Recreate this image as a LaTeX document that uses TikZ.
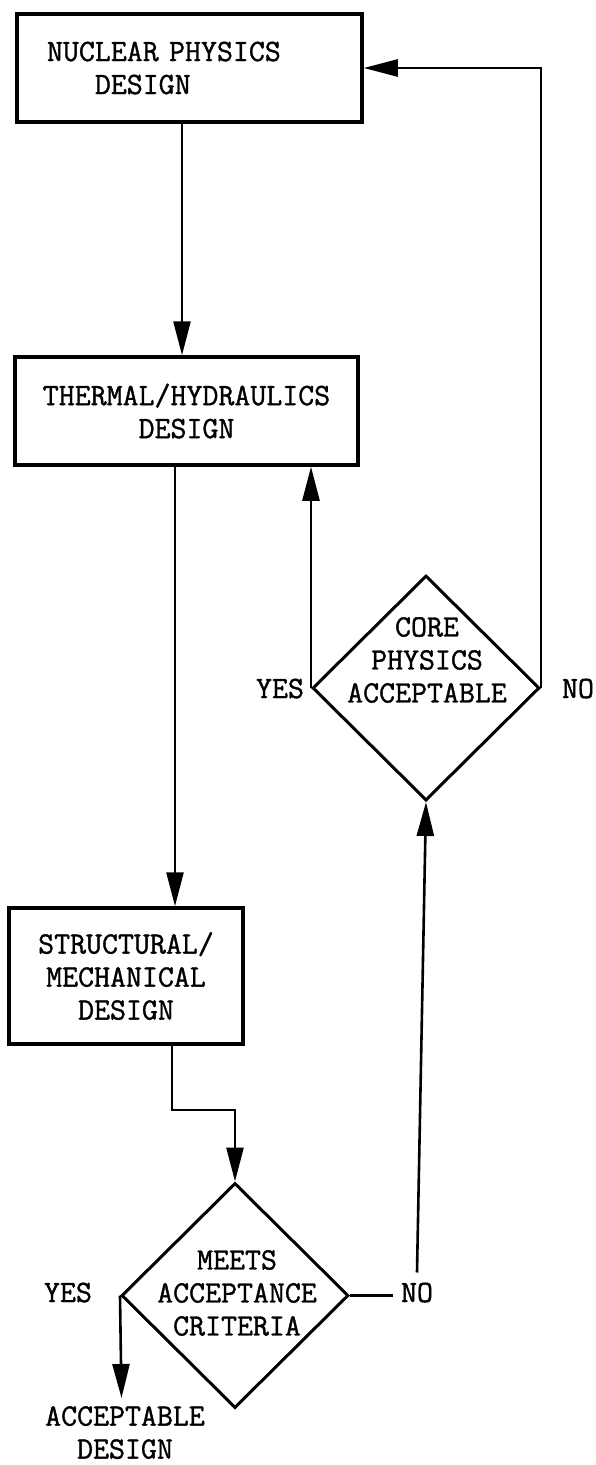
\documentclass[tikz,border=0pt]{standalone}
\usepackage{fontspec}
\newfontfamily\tw{Latin Modern Mono}[FakeBold=1.2]
\usetikzlibrary{arrows.meta,shapes.geometric,calc}
\begin{document}
\begin{tikzpicture}[x=1pt,y=-1pt,
  every node/.style={font=\tw\fontsize{31}{33}\selectfont},
  box/.style={draw, line width=3.5pt, rectangle, inner sep=0pt},
  dia/.style={draw, line width=3pt, diamond, aspect=1, inner sep=0pt, minimum width=227pt, minimum height=225pt},
  lbl/.style={inner sep=0pt, anchor=base},
  txt/.style={inner sep=0pt, align=center},
  conn/.style={line width=2.6pt},
  arr/.style={conn, -{Triangle[length=34pt,width=17pt]}}]
\useasboundingbox (0,0) rectangle (596,1465);

% boxes
\node[box, minimum width=345pt, minimum height=108pt, text width=285pt, align=left] (b1) at (189.5,68) {NUCLEAR PHYSICS\\\phantom{XXX}DESIGN};
\node[box, minimum width=343pt, minimum height=108pt, align=center] (b2) at (186.5,411) {THERMAL/HYDRAULICS\\DESIGN};
\node[box, minimum width=234pt, minimum height=136pt, align=center] (b3) at (126,976) {STRUCTURAL/\\MECHANICAL\\DESIGN};

% diamonds
\node[dia] (core) at (426,688) {};
\node[txt] (coretxt) at (427,660) {CORE\\PHYSICS\\ACCEPTABLE};
\node[dia] (meets) at (235,1295.5) {};
\node[txt] (meetstxt) at (237,1293) {MEETS\\ACCEPTANCE\\CRITERIA};

% labels
\node[lbl] (yes1) at (280,698) {YES};
\node[lbl] (no1) at (578,698) {NO};
\node[lbl] (yes2) at (68,1302) {YES};
\node[lbl] (no2) at (417,1302) {NO};
\node[txt, anchor=north] (final) at (125,1406) {ACCEPTABLE\\DESIGN};

% connectors
\draw[arr] ([xshift=-7.5pt]b1.south) -- ([xshift=-4.5pt]b2.north);
\draw[arr] ([xshift=-11.5pt]b2.south) -- ([xshift=49pt]b3.north);
\coordinate (j1) at (172,1110);
\draw[arr] ([xshift=46pt]b3.south) -- (j1) -- (j1 -| meets.north) -- (meets.north);
\coordinate (yesend) at (121.5,1398);
\draw[arr] (meets.west) -- (yesend);
\draw[conn] (meets.east) -- ([xshift=-8pt]meets.east -| no2.west);
\draw[arr] ([yshift=10pt]no2.north) -- (core.south);
\draw[arr] (core.west) -- (core.west |- b2.south);
\draw[arr] (core.east) |- (b1.east);
\end{tikzpicture}
\end{document}
